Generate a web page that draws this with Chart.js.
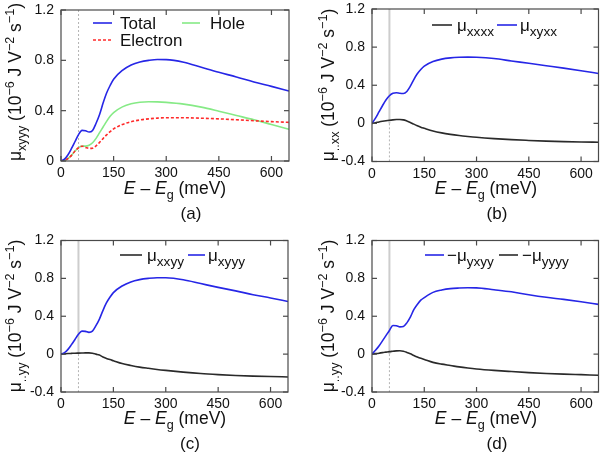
<!DOCTYPE html>
<html><head><meta charset="utf-8">
<script src="https://cdn.jsdelivr.net/npm/chart.js@4/dist/chart.umd.min.js"></script>
<style>
html,body{margin:0;padding:0;background:#fff;}
#wrap{position:relative;width:600px;height:454px;overflow:hidden;background:#fff;}
.p{position:absolute;width:300px;height:227px;}
canvas{display:block;}
</style></head><body>
<div id="wrap">
<div class="p" style="left:0;top:0"><canvas id="ca" width="300" height="227"></canvas></div>
<div class="p" style="left:300px;top:0"><canvas id="cb" width="300" height="227"></canvas></div>
<div class="p" style="left:0;top:227px"><canvas id="cc" width="300" height="227"></canvas></div>
<div class="p" style="left:300px;top:227px"><canvas id="cd" width="300" height="227"></canvas></div>
</div>
<script>
// ---------------- data ----------------
const energy = [0,10,20,30,40,50,60,70,80,90,100,110,120,130,140,150,175,200,225,250,275,300,350,400,450,500,550,600,650];
const totalXyyy    = [0,0.015,0.05,0.1,0.155,0.21,0.243,0.24,0.23,0.243,0.3,0.37,0.46,0.54,0.6,0.65,0.72,0.763,0.787,0.8,0.807,0.806,0.785,0.745,0.705,0.668,0.628,0.593,0.556];
const holeXyyy     = [0,0.005,0.02,0.045,0.08,0.105,0.118,0.118,0.125,0.145,0.18,0.225,0.27,0.315,0.355,0.385,0.43,0.455,0.467,0.471,0.47,0.466,0.452,0.428,0.396,0.362,0.328,0.29,0.252];
const electronXyyy = [0,0.005,0.02,0.045,0.08,0.105,0.117,0.108,0.1,0.102,0.12,0.148,0.178,0.208,0.233,0.255,0.29,0.312,0.326,0.335,0.341,0.344,0.344,0.34,0.335,0.328,0.32,0.313,0.307];
const muXyxx       = [0,0.055,0.12,0.185,0.245,0.29,0.315,0.322,0.316,0.314,0.335,0.39,0.46,0.52,0.565,0.6,0.648,0.674,0.687,0.693,0.695,0.693,0.68,0.655,0.63,0.605,0.58,0.553,0.523];
const muXxxx       = [0,0.007,0.015,0.022,0.028,0.033,0.037,0.04,0.041,0.037,0.025,0.01,-0.008,-0.025,-0.04,-0.052,-0.08,-0.1,-0.115,-0.127,-0.137,-0.146,-0.16,-0.171,-0.179,-0.186,-0.191,-0.195,-0.198];
const muXyyy       = totalXyyy;
const muXxyy       = [0,0.003,0.006,0.008,0.01,0.011,0.012,0.013,0.013,0.01,0.0,-0.01,-0.03,-0.045,-0.058,-0.07,-0.1,-0.12,-0.137,-0.15,-0.162,-0.172,-0.19,-0.205,-0.216,-0.225,-0.232,-0.237,-0.241];
const negMuYxyy    = [0,0.04,0.085,0.14,0.195,0.25,0.302,0.3,0.288,0.292,0.33,0.39,0.47,0.525,0.57,0.597,0.652,0.677,0.692,0.698,0.701,0.7,0.68,0.658,0.627,0.6,0.578,0.553,0.525];
const negMuYyyy    = [0,0.005,0.01,0.016,0.021,0.026,0.03,0.034,0.035,0.03,0.018,0.003,-0.014,-0.03,-0.044,-0.056,-0.087,-0.106,-0.12,-0.135,-0.147,-0.157,-0.172,-0.184,-0.195,-0.204,-0.211,-0.217,-0.223];
const xTicks  = [0,150,300,450,600];
const yTicksA = [0,0.4,0.8,1.2];
const yTicksB = [-0.4,0,0.4,0.8,1.2];
const markerEnergy = 50;

// ---------------- style ----------------
const FAM = '"Liberation Sans", Arial, Helvetica, sans-serif';
const BLUE = '#2626e6', GREEN = '#86ea86', RED = '#ff2a2a', BLACK = '#2a2a2a';

function runFont(k, size, sr){ const s = (k==='b'||k==='p') ? size*sr : size; return (k==='i'?'italic ':'') + s.toFixed(1) + 'px ' + FAM; }
function runDy(k, size){ return k==='b' ? size*0.28 : (k==='p' ? -size*0.42 : 0); }
function drawRich(ctx, runs, x, y, size, align, sr){
  sr = sr || 0.75;
  ctx.textBaseline = 'alphabetic'; ctx.textAlign = 'left';
  let w = 0;
  for (const r of runs){ ctx.font = runFont(r[1], size, sr); w += ctx.measureText(r[0]).width; }
  let cx = align === 'center' ? x - w/2 : x;
  for (const r of runs){ ctx.font = runFont(r[1], size, sr); ctx.fillText(r[0], cx, y + runDy(r[1], size)); cx += ctx.measureText(r[0]).width; }
}
function unitRuns(sub){
  return [['μ',''],[sub,'b'],[' (10',''],['−6','p'],[' J V',''],['−2','p'],[' s',''],['−1','p'],[')','']];
}
const xTitleRuns = [['E','i'],[' – ',''],['E','i'],['g','b'],[' (meV)','']];

const panels = [
  { id:'ca', area:{left:61,right:289,top:10,bottom:161}, yMin:0, yMax:1.2, yTicks:yTicksA, marker:'dotted',
    series:[{data:totalXyyy,color:BLUE,order:0},{data:holeXyyy,color:GREEN,order:2},{data:electronXyyy,color:RED,dash:[3,2],order:1}],
    yTitle:{runs:unitRuns('xyyy'), x:21, y:82}, xTitle:{x:175,y:194}, label:{text:'(a)',x:191,y:219},
    legend:[{x1:93,x2:112,y:23,color:BLUE,tx:120,runs:[['Total','']]},
            {x1:182,x2:200,y:23,color:GREEN,tx:210,runs:[['Hole','']]},
            {x1:93,x2:112,y:40,color:RED,dash:[3,2],tx:120,runs:[['Electron','']]}] },
  { id:'cb', area:{left:72,right:298.5,top:9,bottom:161.5}, yMin:-0.4, yMax:1.2, yTicks:yTicksB, marker:'split',
    series:[{data:muXxxx,color:BLACK,order:1},{data:muXyxx,color:BLUE,order:0}],
    yTitle:{runs:unitRuns('..xx'), x:34, y:85}, xTitle:{x:186,y:194}, label:{text:'(b)',x:197,y:219},
    legend:[{x1:132,x2:152,y:25,color:BLACK,tx:157,runs:[['μ',''],['xxxx','b']]},
            {x1:197,x2:217,y:25,color:BLUE,tx:220,runs:[['μ',''],['xyxx','b']]}] },
  { id:'cc', area:{left:61,right:288,top:13.5,bottom:165}, yMin:-0.4, yMax:1.2, yTicks:yTicksB, marker:'split',
    series:[{data:muXxyy,color:BLACK,order:1},{data:muXyyy,color:BLUE,order:0}],
    yTitle:{runs:unitRuns('..yy'), x:21, y:89}, xTitle:{x:175,y:197}, label:{text:'(c)',x:190,y:222},
    legend:[{x1:120,x2:142,y:28,color:BLACK,tx:147,runs:[['μ',''],['xxyy','b']]},
            {x1:188,x2:205,y:28,color:BLUE,tx:208,runs:[['μ',''],['xyyy','b']]}] },
  { id:'cd', area:{left:72,right:298.5,top:13.5,bottom:165}, yMin:-0.4, yMax:1.2, yTicks:yTicksB, marker:'split',
    series:[{data:negMuYyyy,color:BLACK,order:1},{data:negMuYxyy,color:BLUE,order:0}],
    yTitle:{runs:unitRuns('..yy'), x:34, y:89}, xTitle:{x:186,y:197}, label:{text:'(d)',x:197,y:222},
    legend:[{x1:125,x2:144,y:28,color:BLUE,tx:147,runs:[['−μ',''],['yxyy','b']]},
            {x1:199,x2:218,y:28,color:BLACK,tx:222,runs:[['−μ',''],['yyyy','b']]}] }
];

function line(ctx,x1,y1,x2,y2){ ctx.beginPath(); ctx.moveTo(x1,y1); ctx.lineTo(x2,y2); ctx.stroke(); }

function makePlugin(p){
  return {
    id: 'deco_' + p.id,
    beforeDatasetsDraw(chart){
      const {ctx, chartArea:a, scales:{x,y}} = chart;
      const px = x.getPixelForValue(markerEnergy);
      const py0 = y.getPixelForValue(0);
      ctx.save();
      if (p.marker === 'dotted'){
        ctx.strokeStyle = '#b4b4b4'; ctx.lineWidth = 1; ctx.setLineDash([2,2]);
        line(ctx, px, a.top, px, a.bottom);
      } else {
        ctx.strokeStyle = '#cdcdcd'; ctx.lineWidth = 2;
        line(ctx, px, a.top, px, py0);
        ctx.strokeStyle = '#b4b4b4'; ctx.lineWidth = 1; ctx.setLineDash([2,2]);
        line(ctx, px, py0, px, a.bottom);
      }
      ctx.restore();
    },
    afterDatasetsDraw(chart){
      const {ctx, chartArea:a, scales:{x,y}} = chart;
      ctx.save();
      ctx.strokeStyle = '#4a4a4a'; ctx.lineWidth = 1.2;
      ctx.strokeRect(a.left, a.top, a.right - a.left, a.bottom - a.top);
      const tl = 5;
      for (const v of xTicks){ const px = x.getPixelForValue(v); line(ctx,px,a.bottom,px,a.bottom-tl); line(ctx,px,a.top,px,a.top+tl); }
      for (const v of p.yTicks){ const py = y.getPixelForValue(v); line(ctx,a.left,py,a.left+tl,py); line(ctx,a.right,py,a.right-tl,py); }
      ctx.restore();
    },
    afterDraw(chart){
      const ctx = chart.ctx;
      ctx.save();
      ctx.fillStyle = '#111';
      // y title (rotated)
      ctx.save();
      ctx.translate(p.yTitle.x, p.yTitle.y);
      ctx.rotate(-Math.PI/2);
      drawRich(ctx, p.yTitle.runs, 0, 0, 17.5, 'center', 0.72);
      ctx.restore();
      // x title
      drawRich(ctx, xTitleRuns, p.xTitle.x, p.xTitle.y, 17.5, 'center', 0.72);
      // panel label
      ctx.font = '17px ' + FAM; ctx.textAlign = 'center'; ctx.textBaseline = 'alphabetic';
      ctx.fillText(p.label.text, p.label.x, p.label.y);
      // legend
      for (const e of p.legend){
        ctx.save();
        ctx.strokeStyle = e.color; ctx.lineWidth = 1.6; ctx.setLineDash(e.dash || []);
        line(ctx, e.x1, e.y, e.x2, e.y);
        ctx.restore();
        drawRich(ctx, e.runs, e.tx, e.y + 17*0.35, 17, 'left', 0.8);
      }
      ctx.restore();
    }
  };
}

for (const p of panels){
  const canvas = document.getElementById(p.id);
  const W = 300, H = 227;
  new Chart(canvas, {
    type: 'line',
    data: {
      datasets: p.series.map(s => ({
        data: energy.map((e,i) => ({x:e, y:s.data[i]})),
        borderColor: s.color, borderWidth: 1.6, borderDash: s.dash || [],
        pointRadius: 0, fill: false, cubicInterpolationMode: 'monotone', order: s.order
      }))
    },
    options: {
      responsive: false, animation: false, devicePixelRatio: 1,
      layout: { padding: { left: 0, top: p.area.top, right: W - p.area.right, bottom: 0 } },
      plugins: { legend: {display:false}, tooltip: {enabled:false}, title:{display:false} },
      scales: {
        x: {
          type: 'linear', min: 0, max: 650,
          grid: { display:false, drawTicks:false }, border: { display:false },
          ticks: { font:{family:FAM, size:14}, color:'#111', padding:4, autoSkip:false, maxRotation:0, includeBounds:false },
          afterBuildTicks(s){ s.ticks = xTicks.map(v => ({value:v})); },
          afterFit(s){ s.height = H - p.area.bottom; s.paddingLeft = 0; s.paddingRight = 0; }
        },
        y: {
          type: 'linear', min: p.yMin, max: p.yMax,
          grid: { display:false, drawTicks:false }, border: { display:false },
          ticks: { font:{family:FAM, size:14}, color:'#111', padding:7, autoSkip:false,
                   callback: v => { const r = Math.round(v*10)/10; return r === 0 ? '0' : r.toFixed(1); } },
          afterBuildTicks(s){ s.ticks = p.yTicks.map(v => ({value:v})); },
          afterFit(s){ s.width = p.area.left; s.paddingTop = 0; s.paddingBottom = 0; }
        }
      }
    },
    plugins: [makePlugin(p)]
  });
}
</script>
</body></html>
